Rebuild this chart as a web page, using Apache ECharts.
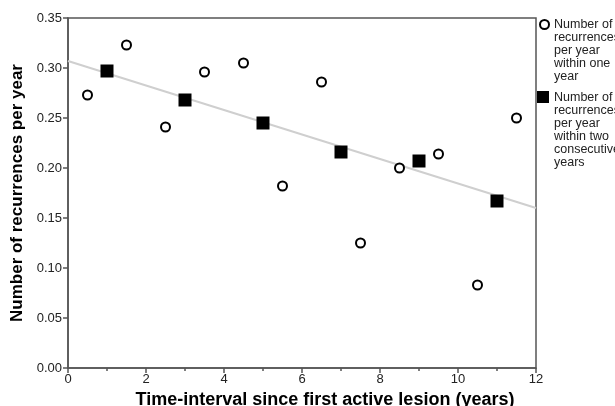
<!DOCTYPE html>
<html>
<head>
<meta charset="utf-8">
<script src="https://cdn.jsdelivr.net/npm/echarts@6/dist/echarts.min.js"></script>
<style>html,body{margin:0;padding:0;background:#fff}#c{width:615px;height:406px}</style>
</head>
<body>
<div id="c"></div>
<script>
var oneYearX = [0.5, 1.5, 2.5, 3.5, 4.5, 5.5, 6.5, 7.5, 8.5, 9.5, 10.5, 11.5];
var oneYearY = [0.273, 0.323, 0.241, 0.296, 0.305, 0.182, 0.286, 0.125, 0.200, 0.214, 0.083, 0.250];
var twoYearX = [1, 3, 5, 7, 9, 11];
var twoYearY = [0.297, 0.268, 0.245, 0.216, 0.207, 0.167];
var fitX = [0, 12];
var fitY = [0.307, 0.160];
var legendOne = ['Number of', 'recurrences', 'per year', 'within one', 'year'];
var legendTwo = ['Number of', 'recurrences', 'per year', 'within two', 'consecutive', 'years'];

function pairs(xs, ys) { return xs.map(function (x, i) { return [x, ys[i]]; }); }

var font = '"Liberation Sans", Arial, sans-serif';
var chart = echarts.init(document.getElementById('c'));
chart.setOption({
  animation: false,
  backgroundColor: '#fff',
  textStyle: { fontFamily: font },
  grid: { left: 68, top: 18, right: 79, bottom: 38, containLabel: false, outerBoundsMode: 'none', show: true, borderColor: '#555', borderWidth: 1.5, backgroundColor: 'transparent' },
  xAxis: {
    type: 'value', min: 0, max: 12, interval: 2,
    name: 'Time-interval since first active lesion (years)',
    nameLocation: 'middle', nameGap: 21,
    nameTextStyle: { fontSize: 18, fontWeight: 'bold', color: '#000', fontFamily: font, padding: [0, 0, 0, 46] },
    axisLine: { show: true, lineStyle: { color: '#555', width: 1.5 } },
    axisTick: { show: true, length: 5, lineStyle: { color: '#555', width: 1.5 } },
    minorTick: { show: true, splitNumber: 2, length: 3, lineStyle: { color: '#555', width: 1.5 } },
    axisLabel: { fontSize: 13, color: '#222', margin: 5, fontFamily: font },
    splitLine: { show: false }
  },
  yAxis: {
    type: 'value', min: 0, max: 0.35, interval: 0.05,
    name: 'Number of recurrences per year',
    nameLocation: 'middle', nameGap: 41,
    nameTextStyle: { fontSize: 17, fontWeight: 'bold', color: '#000', fontFamily: font },
    axisLine: { show: true, lineStyle: { color: '#555', width: 1.5 } },
    axisTick: { show: true, length: 5, lineStyle: { color: '#555', width: 1.5 } },
    axisLabel: { fontSize: 13, color: '#222', margin: 6, fontFamily: font, formatter: function (v) { return v.toFixed(2); } },
    splitLine: { show: false }
  },
  graphic: [
    { type: 'circle', left: 539, top: 19, shape: { r: 4.5 }, style: { fill: '#fff', stroke: '#000', lineWidth: 2 } },
    { type: 'text', left: 554, top: 18, style: { text: legendOne.join('\n'), font: '12.5px ' + font, fill: '#222', lineHeight: 13 } },
    { type: 'rect', left: 537, top: 91, shape: { width: 12, height: 12 }, style: { fill: '#000' } },
    { type: 'text', left: 554, top: 91, style: { text: legendTwo.join('\n'), font: '12.5px ' + font, fill: '#222', lineHeight: 13 } }
  ],
  series: [
    {
      type: 'line', data: pairs(fitX, fitY), symbol: 'none', silent: true,
      lineStyle: { color: '#cfcfcf', width: 2 }, z: 1
    },
    {
      name: 'Number of recurrences per year within one year',
      type: 'scatter', data: pairs(oneYearX, oneYearY), symbol: 'circle', symbolSize: 9,
      itemStyle: { color: '#fff', borderColor: '#000', borderWidth: 2, opacity: 1 }, z: 3
    },
    {
      name: 'Number of recurrences per year within two consecutive years',
      type: 'scatter', data: pairs(twoYearX, twoYearY), symbol: 'rect', symbolSize: 13,
      itemStyle: { color: '#000', opacity: 1 }, z: 3
    }
  ]
});
</script>
</body>
</html>
